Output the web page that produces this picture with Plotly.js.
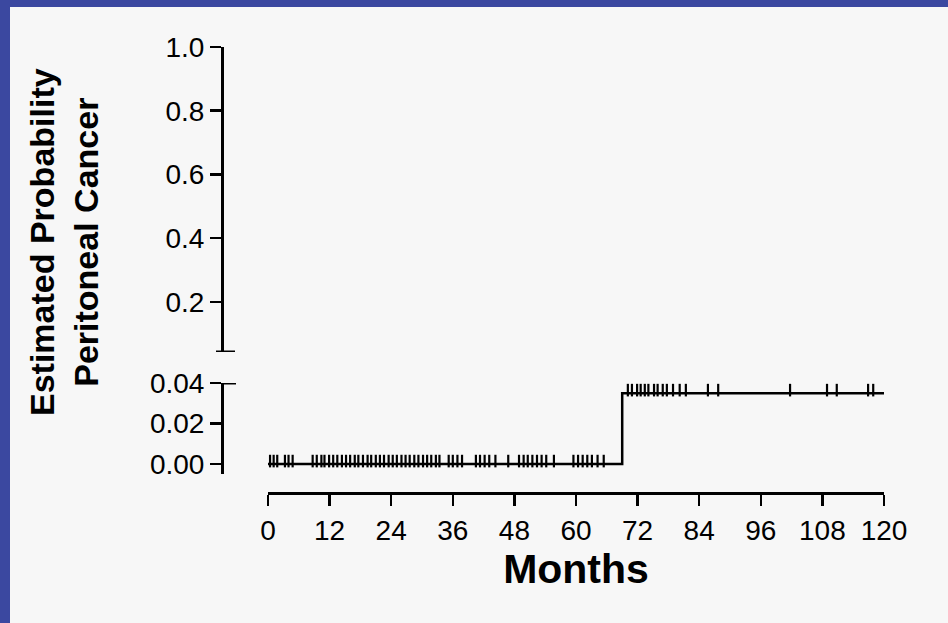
<!DOCTYPE html>
<html>
<head>
<meta charset="utf-8">
<script src="https://cdn.plot.ly/plotly-3.0.1.min.js"></script>
<style>html,body{margin:0;padding:0;background:#f7f7f7;}#chart{width:948px;height:623px;}</style>
</head>
<body>
<div id="chart"></div>
<script>
// ---- data ----
const xTickVals = [0, 12, 24, 36, 48, 60, 72, 84, 96, 108, 120];
const upperTickVals = [0.2, 0.4, 0.6, 0.8, 1.0];
const lowerTickVals = [0.00, 0.02, 0.04];

// Kaplan-Meier step (months, estimated probability)
const stepMonths = [0, 69, 120];
const stepProb = [0, 0.035, 0.035];

// censored observations (months)
const censorMonths = [
  0.4, 1.1, 1.8, 3.3, 4.0, 4.8,
  8.7, 9.5, 10.4, 11.0, 11.9, 12.7, 13.5, 14.4, 15.2, 16.0, 16.9, 17.6, 18.5, 19.4,
  20.1, 21.0, 21.8, 22.6, 23.5, 24.3, 25.1, 26.0, 26.8, 27.6, 28.5, 29.3, 30.2, 31.0,
  31.8, 32.7, 33.4,
  35.2, 36.0, 36.9, 37.8,
  40.5, 41.3, 42.2, 43.1, 44.3,
  46.8,
  48.9, 49.8, 50.6, 51.5, 52.4, 53.3, 54.2, 55.7,
  59.5, 60.4, 61.3, 62.2, 63.1, 64.2, 65.4,
  70.1, 70.9, 71.9, 72.6, 73.4, 74.1, 75.2, 75.9, 76.9, 77.7, 78.9, 80.2, 81.4,
  85.7, 87.7, 101.7, 108.9, 110.8, 116.9, 117.9
];

// probability at each censor time
function probAt(t) {
  let p = stepProb[0];
  for (let i = 0; i < stepMonths.length; i++) if (t >= stepMonths[i]) p = stepProb[i];
  return p;
}
const censorProb = censorMonths.map(probAt);

// ---- layout geometry ----
const W = 948, H = 623;
const fx = px => px / W;
const fy = px => 1 - px / H;
const lowerRange = [-0.0049, 0.04];
const pxPerUnit = (474 - 383) / (lowerRange[1] - lowerRange[0]);
const markShift = 3 / pxPerUnit; // lift censor ticks a few pixels above the line

const FONT = '"Liberation Sans", Arial, Helvetica, sans-serif';

const traces = [
  {
    x: stepMonths, y: stepProb, type: 'scatter', mode: 'lines',
    line: {shape: 'hv', color: '#000', width: 2.5},
    xaxis: 'x', yaxis: 'y', hoverinfo: 'skip', showlegend: false
  },
  {
    x: censorMonths, y: censorProb, type: 'scatter', mode: 'markers',
    marker: {symbol: 'line-ns-open', size: 9, color: '#000', line: {color: '#000', width: 2.2}},
    xaxis: 'x', yaxis: 'y3', hoverinfo: 'skip', showlegend: false
  }
];

const axisCommon = {
  showline: true, linecolor: '#000', linewidth: 3,
  ticks: 'outside', ticklen: 11, tickwidth: 2.5, tickcolor: '#000',
  showgrid: false, zeroline: false, fixedrange: true,
  tickfont: {family: FONT, size: 28, color: '#000'}
};

const layout = {
  width: W, height: H,
  margin: {l: 0, r: 0, t: 0, b: 0},
  paper_bgcolor: '#f7f7f7', plot_bgcolor: 'rgba(0,0,0,0)',
  showlegend: false,
  xaxis: Object.assign({}, axisCommon, {
    domain: [fx(268), fx(884)], range: [0, 120],
    anchor: 'free', position: fy(493),
    tickmode: 'array', tickvals: xTickVals, ticktext: xTickVals.map(String),
    title: {text: 'Months', font: {family: FONT, size: 41, color: '#000', weight: 'bold'}, standoff: 6}
  }),
  yaxis: Object.assign({}, axisCommon, {
    domain: [fy(474), fy(383)], range: lowerRange,
    anchor: 'free', position: fx(222),
    tickmode: 'array', tickvals: lowerTickVals, ticktext: lowerTickVals.map(v => v.toFixed(2))
  }),
  yaxis2: Object.assign({}, axisCommon, {
    domain: [fy(352), fy(47)], range: [0.043, 1.0],
    anchor: 'free', position: fx(222),
    tickmode: 'array', tickvals: upperTickVals, ticktext: upperTickVals.map(v => v.toFixed(1))
  }),
  yaxis3: {
    domain: [fy(474), fy(383)], range: [lowerRange[0] - markShift, lowerRange[1] - markShift],
    overlaying: 'y', anchor: 'free', position: fx(222), visible: false, fixedrange: true
  },
  shapes: [
    // blue frame
    {type: 'rect', xref: 'paper', yref: 'paper', x0: 0, x1: fx(10), y0: 0, y1: 1, line: {width: 0}, fillcolor: '#3b48a0', layer: 'below'},
    {type: 'rect', xref: 'paper', yref: 'paper', x0: 0, x1: 1, y0: fy(7), y1: 1, line: {width: 0}, fillcolor: '#3b48a0', layer: 'below'},
    // axis-break caps
    {type: 'line', xref: 'paper', yref: 'y2', x0: fx(216), x1: fx(235), y0: 0.043, y1: 0.043, line: {color: '#000', width: 3}},
    {type: 'line', xref: 'paper', yref: 'y', x0: fx(222), x1: fx(236), y0: 0.04, y1: 0.04, line: {color: '#000', width: 3}}
  ],
  annotations: [
    {
      text: 'Estimated Probability<br>Peritoneal Cancer',
      xref: 'paper', yref: 'paper', x: fx(64), y: fy(242),
      xanchor: 'center', yanchor: 'middle', textangle: -90, showarrow: false,
      font: {family: FONT, size: 34, color: '#000', weight: 'bold'}
    }
  ]
};

Plotly.newPlot('chart', traces, layout, {displayModeBar: false, staticPlot: true});
</script>
</body>
</html>
